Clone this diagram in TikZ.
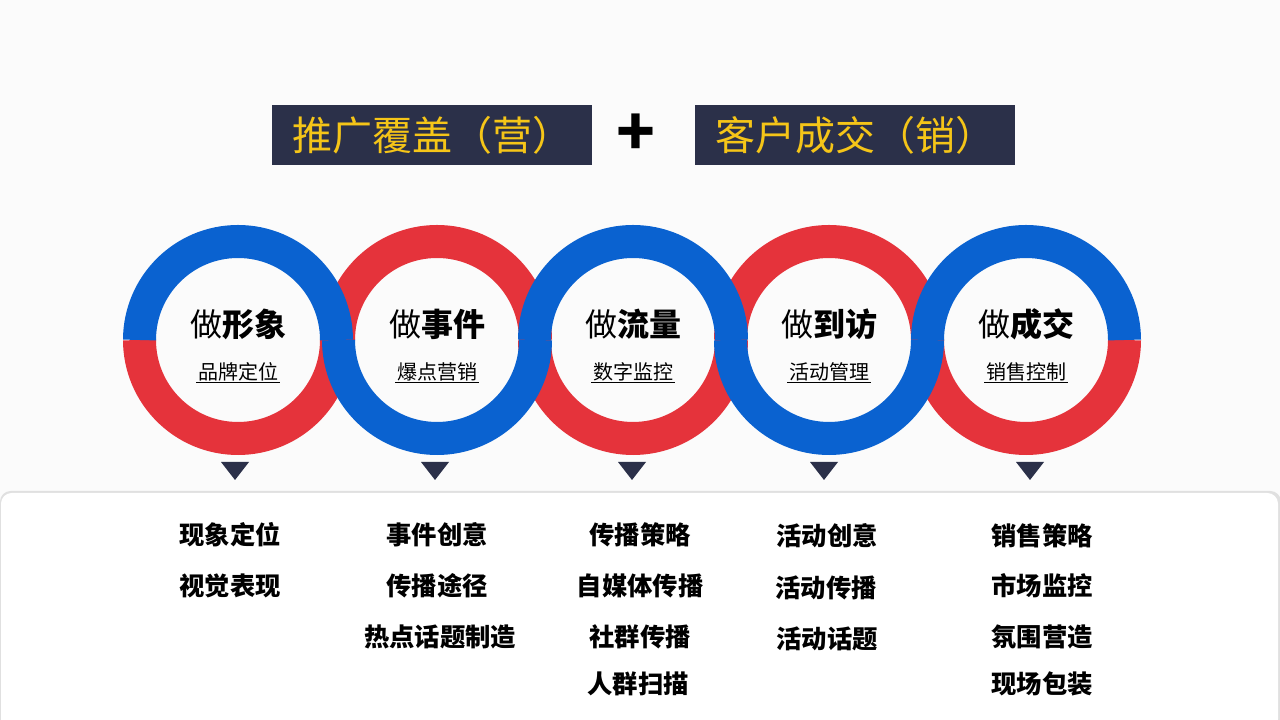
\documentclass[tikz,border=0pt]{standalone}
\usepackage{fontspec}
\setmainfont{Noto Sans CJK SC}
\usetikzlibrary{calc}
\definecolor{rblue}{HTML}{0A62D0}
\definecolor{rred}{HTML}{E5333B}
\definecolor{navy}{HTML}{2B3049}
\definecolor{gold}{HTML}{F5C518}
\begin{document}
\begin{tikzpicture}[x=0.75pt,y=0.75pt,
  hdr/.style={fill=navy,text=gold,font=\fontsize{30}{34}\selectfont,minimum width=240,minimum height=45,inner sep=0},
  ttl/.style={font=\fontsize{24}{28}\selectfont,anchor=center},
  sub/.style={font=\fontsize{15}{18}\selectfont,inner sep=1pt},
  item/.style={font=\fontsize{19}{22}\selectfont\bfseries},
  tri/.style={fill=navy,draw=none}]
\useasboundingbox (0,0) rectangle (1280,720);
\fill[white!97!gray] (0,0) rectangle (1280,720);
% panel
\fill[black!12,rounded corners=8] (0,-10) rectangle (1281,229);
\fill[white,rounded corners=8] (1,-10) rectangle (1278,227);
% header
\node[hdr] (h1) at (432,585) {推广覆盖（营）};
\node[font=\fontsize{48}{50}\selectfont\bfseries] (plus) at (636,585) {+};
\node[hdr] (h2) at (855,585) {客户成交（销）};
% rings
\def\rr{98.5}
\foreach \i/\x in {1/238,2/437,3/633,4/829,5/1026}{
  \coordinate (c\i) at (\x,380);
}
\foreach \i/\t in {1/b,2/r,3/b,4/r,5/b}{
  \if\t b
    \draw[rred,line width=24.75pt] ($(c\i)+(180:\rr)$) arc (180:360:\rr);
  \else
    \draw[rred,line width=24.75pt] ($(c\i)+(0:\rr)$) arc (0:180:\rr);
  \fi
}
\foreach \i/\t in {1/b,2/r,3/b,4/r,5/b}{
  \if\t b
    \draw[rblue,line width=24.75pt] ($(c\i)+(0:\rr)$) arc (0:180:\rr);
  \else
    \draw[rblue,line width=24.75pt] ($(c\i)+(180:\rr)$) arc (180:360:\rr);
  \fi
}
\foreach \i/\a/\b in {1/形象/品牌定位,2/事件/爆点营销,3/流量/数字监控,4/到访/活动管理,5/成交/销售控制}{
  \node[ttl] (t\i) at ($(c\i)+(0,16)$) {做\textbf{\a}};
  \node[sub] (s\i) at ($(c\i)+(0,-32)$) {\b};
  \draw[line width=0.8pt] (s\i.south west) -- (s\i.south east);
}
% triangles
\foreach \i/\x in {1/235,2/435,3/632,4/824,5/1030}{
  \fill[tri] (\x-14,258) -- (\x+14,258) -- (\x,240) -- cycle;
}
% items
\node[item] (a1) at (230,185) {现象定位};
\node[item] (a2) at (230,134) {视觉表现};
\node[item] (b1) at (437,185) {事件创意};
\node[item] (b2) at (437,134) {传播途径};
\node[item] (b3) at (440,83) {热点话题制造};
\node[item] (d1) at (640,185) {传播策略};
\node[item] (d2) at (640,134) {自媒体传播};
\node[item] (d3) at (640,83) {社群传播};
\node[item] (d4) at (638,36) {人群扫描};
\node[item] (e1) at (827,184) {活动创意};
\node[item] (e2) at (826,132) {活动传播};
\node[item] (e3) at (827,81) {活动话题};
\node[item] (f1) at (1042,184) {销售策略};
\node[item] (f2) at (1042,134) {市场监控};
\node[item] (f3) at (1042,83) {氛围营造};
\node[item] (f4) at (1042,36) {现场包装};
\end{tikzpicture}
\end{document}
